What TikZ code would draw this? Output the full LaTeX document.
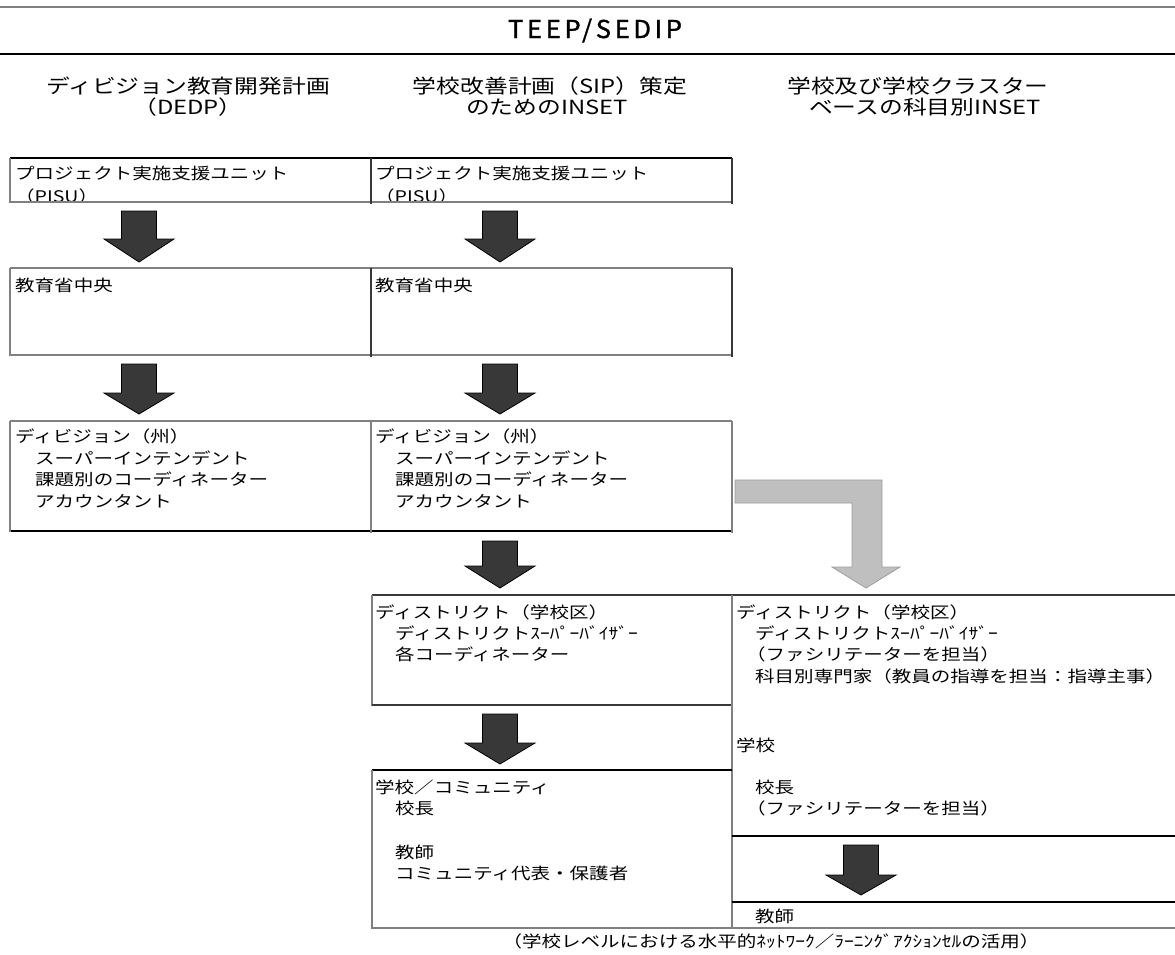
\documentclass[tikz,border=0pt]{standalone}
\usepackage{fontspec}
\usepackage{graphicx}
\setmainfont{Noto Sans CJK JP}[FakeStretch=1.22]
\newfontfamily\titlefont{Noto Sans CJK JP}[FakeBold=1.2]

% dark block arrow: centre x, shaft top, head base, tip
\newcommand\blkarrow[4]{%
  \path[darr] (#1-17.5,#2) -- (#1+17.5,#2) -- (#1+17.5,#3) -- (#1+35,#3)
    -- (#1,#4) -- (#1-35,#3) -- (#1-17.5,#3) -- cycle;}

\begin{document}
\begin{tikzpicture}[x=1pt,y=-1pt,
  gline/.style={draw=black!50, line width=1.3pt},
  kline/.style={draw=black, line width=1.3pt},
  dline/.style={draw=black!78, line width=1.3pt},
  txt/.style={anchor=west, inner sep=0pt, font=\fontsize{16}{20}\selectfont,
              text height=14pt, text depth=2pt},
  hdr/.style={anchor=center, inner sep=0pt, font=\fontsize{19.5}{24}\selectfont,
              text height=17pt, text depth=2.5pt},
  darr/.style={fill=black!78, draw=black, line width=0.8pt, line join=miter},
  larr/.style={fill=black!25, draw=black!38, line width=0.8pt, line join=miter}]

\fill[white] (0,0) rectangle (1175,954);
\useasboundingbox (0,0) rectangle (1175,954);

% title band
\draw[gline] (0,7) -- (1175,7);
\draw[kline] (0,54) -- (1175,54);
\node[inner sep=0pt, anchor=center] (title) at (595,29)
  {\resizebox{174pt}{18pt}{\titlefont\addfontfeature{LetterSpace=14}%
   \smash{TEEP/SEDIP}\rule{0pt}{\fontcharht\font`T}}};

% column headings
\node[hdr] (h1a) at (188,86)  {ディビジョン教育開発計画};
\node[hdr] (h1b) at (188,107) {（DEDP）};
\node[hdr] (h2a) at (550,86)  {学校改善計画（SIP）策定};
\node[hdr] (h2b) at (547,107) {のためのINSET};
\node[hdr] (h3a) at (918,86)  {学校及び学校クラスター};
\node[hdr] (h3b) at (925,107) {ベースの科目別INSET};

% row 1: PISU (second line runs into the lower border)
\begin{scope}
  \clip (10,158) rectangle (732,202);
  \node[txt] (p1a) at (15,173)  {プロジェクト実施支援ユニット};
  \node[txt] (p1b) at (15,196)  {（PISU）};
  \node[txt] (p2a) at (375,173) {プロジェクト実施支援ユニット};
  \node[txt] (p2b) at (375,196) {（PISU）};
\end{scope}
\draw[kline] (10,158) -- (732,158);
\draw[gline] (10,202) -- (732,202);
\draw[gline] (10,158) -- (10,203);
\draw[dline] (371,158) -- (371,204) (732,158) -- (732,204);

\blkarrow{139}{211}{239}{262}
\blkarrow{500}{211}{239}{262}

% row 2: ministry
\draw[gline] (10,268) -- (732,268);
\draw[gline] (10,355) -- (732,355);
\draw[gline] (10,268) -- (10,356);
\draw[dline] (371,268) -- (371,357) (732,268) -- (732,357);
\node[txt] (m1) at (15,285)  {教育省中央};
\node[txt] (m2) at (375,285) {教育省中央};

\blkarrow{139}{364}{393}{414}
\blkarrow{500}{364}{393}{414}

% row 3: division
\draw[gline] (10,421) -- (732,421);
\draw[kline] (10,531) -- (732,531);
\draw[gline] (10,421) -- (10,532) (371,421) -- (371,533) (732,421) -- (732,533);
\node[txt] (d1a) at (15,436)  {ディビジョン（州）};
\node[txt] (d1b) at (35,458)  {スーパーインテンデント};
\node[txt] (d1c) at (35,479)  {課題別のコーディネーター};
\node[txt] (d1d) at (35,501)  {アカウンタント};
\node[txt] (d2a) at (375,436) {ディビジョン（州）};
\node[txt] (d2b) at (395,458) {スーパーインテンデント};
\node[txt] (d2c) at (395,479) {課題別のコーディネーター};
\node[txt] (d2d) at (395,501) {アカウンタント};

% light bent arrow into the district cell on the right
\path[larr] (735,480) -- (882,480) -- (882,567) -- (900,567) -- (866,588)
  -- (832,567) -- (852,567) -- (852,503) -- (735,503) -- cycle;

\blkarrow{500}{541}{566}{588}

% row 4: district
\draw[dline] (372,595) -- (1175,595);
\draw[gline] (372,595) -- (372,706);
\draw[dline] (372,705) -- (732,705);
\draw[gline] (732,595) -- (732,929);
\node[txt] (s1a) at (375,612) {ディストリクト（学校区）};
\node[txt] (s1b) at (395,633) {ディストリクトｽｰﾊﾟｰﾊﾞｲｻﾞｰ};
\node[txt] (s1c) at (395,654) {各コーディネーター};
\node[txt] (r1a) at (736,612) {ディストリクト（学校区）};
\node[txt] (r1b) at (755,633) {ディストリクトｽｰﾊﾟｰﾊﾞｲｻﾞｰ};
\node[txt] (r1c) at (746,654) {（ファシリテーターを担当）};
\node[txt] (r1d) at (755,676) {科目別専門家（教員の指導を担当：指導主事）};

\blkarrow{500}{714}{743}{764}

% row 5: school
\draw[kline] (372,770) -- (732,770);
\draw[gline] (372,770) -- (372,929);
\draw[gline] (372,928) -- (1175,928);
\draw[kline] (732,836) -- (1175,836);
\draw[kline] (732,902) -- (1175,902);
\node[txt] (c1a) at (375,787) {学校／コミュニティ};
\node[txt] (c1b) at (395,808) {校長};
\node[txt] (c1c) at (395,852) {教師};
\node[txt] (c1d) at (395,873) {コミュニティ代表・保護者};
\node[txt] (r2a) at (736,745) {学校};
\node[txt] (r2b) at (755,787) {校長};
\node[txt] (r2c) at (746,808) {（ファシリテーターを担当）};
\node[txt] (r2d) at (755,916) {教師};

\blkarrow{861}{845}{875}{895}

% footnote
\node[txt, anchor=center] (note) at (771,941)
  {（学校レベルにおける水平的ﾈｯﾄﾜｰｸ／ﾗｰﾆﾝｸﾞｱｸｼｮﾝｾﾙの活用）};
\end{tikzpicture}
\end{document}
